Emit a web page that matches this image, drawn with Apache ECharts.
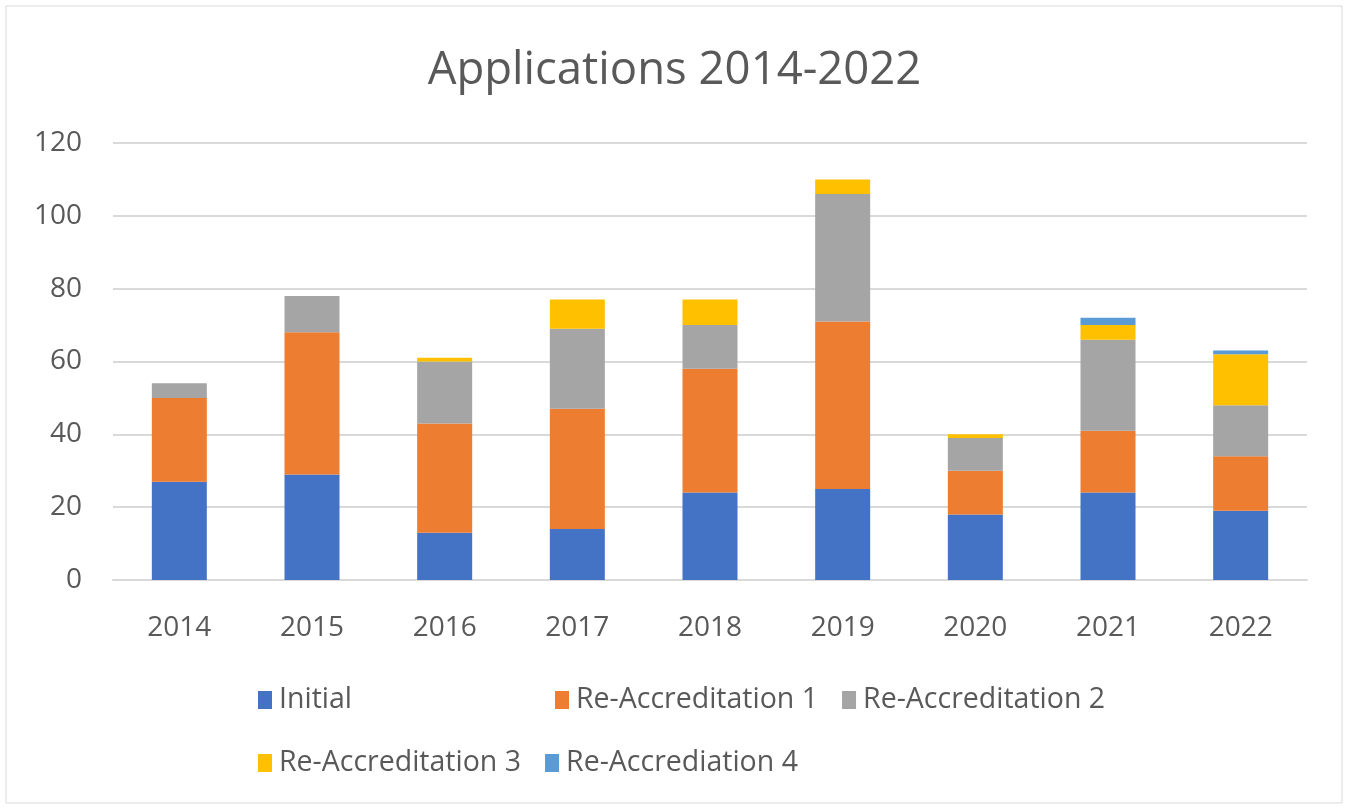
<!DOCTYPE html>
<html>
<head>
<meta charset="utf-8">
<script src="https://cdn.jsdelivr.net/npm/echarts@6/dist/echarts.min.js"></script>
<style>html,body{margin:0;padding:0;background:#fff;}#c{width:1349px;height:808px;}</style>
</head>
<body>
<div id="c"></div>
<script>
const categories = ['2014','2015','2016','2017','2018','2019','2020','2021','2022'];
const initial = [27, 29, 13, 14, 24, 25, 18, 24, 19];
const reAcc1 = [23, 39, 30, 33, 34, 46, 12, 17, 15];
const reAcc2 = [4, 10, 17, 22, 12, 35, 9, 25, 14];
const reAcc3 = [0, 0, 1, 8, 7, 4, 1, 4, 14];
const reAcc4 = [0, 0, 0, 0, 0, 0, 0, 2, 1];
const seriesNames = ['Initial','Re-Accreditation 1','Re-Accreditation 2','Re-Accreditation 3','Re-Accrediation 4'];
const colors = ['#4472C4','#ED7D31','#A5A5A5','#FFC000','#5B9BD5'];
const yTicks = {min: 0, max: 120, interval: 20};

const font = '"Open Sans", sans-serif';
const txt = '#595959';
const chart = echarts.init(document.getElementById('c'));
const values = [initial, reAcc1, reAcc2, reAcc3, reAcc4];
const legendText = {color: txt, fontSize: 28.5, fontFamily: font, lineHeight: 34, padding: [0,0,0,2]};
const legendBase = {orient: 'horizontal', itemWidth: 14, itemHeight: 18, itemGap: 24, icon: 'rect', textStyle: legendText, selectedMode: false, padding: 0};
chart.setOption({
  animation: false,
  color: colors,
  graphic: [{type: 'rect', shape: {x: 6, y: 6, width: 1336, height: 797}, style: {fill: 'none', stroke: '#d9d9d9', lineWidth: 1}}],
  title: {text: 'Applications 2014-2022', left: 'center', top: 48, padding: 0, textStyle: {color: txt, fontSize: 45.5, fontWeight: 'normal', fontFamily: font}},
  legend: [
    Object.assign({}, legendBase, {data: [seriesNames[0]], left: 258, top: 683}),
    Object.assign({}, legendBase, {data: [seriesNames[1], seriesNames[2]], left: 555, top: 683}),
    Object.assign({}, legendBase, {data: [seriesNames[3], seriesNames[4]], left: 258, top: 746})
  ],
  grid: {left: 113, right: 42, top: 143, bottom: 228, containLabel: false},
  xAxis: {type: 'category', data: categories,
    axisLine: {lineStyle: {color: '#d9d9d9', width: 2}}, axisTick: {show: false},
    axisLabel: {color: txt, fontSize: 28, fontFamily: font, margin: 34}},
  yAxis: {type: 'value', min: yTicks.min, max: yTicks.max, interval: yTicks.interval,
    axisLine: {show: false}, axisTick: {show: false},
    splitLine: {lineStyle: {color: '#d9d9d9', width: 2}},
    axisLabel: {color: txt, fontSize: 28, fontFamily: font, margin: 31}},
  series: seriesNames.map((n, i) => ({name: n, type: 'bar', stack: 'total', barWidth: 55, data: values[i], itemStyle: {color: colors[i]}}))
});
</script>
</body>
</html>
